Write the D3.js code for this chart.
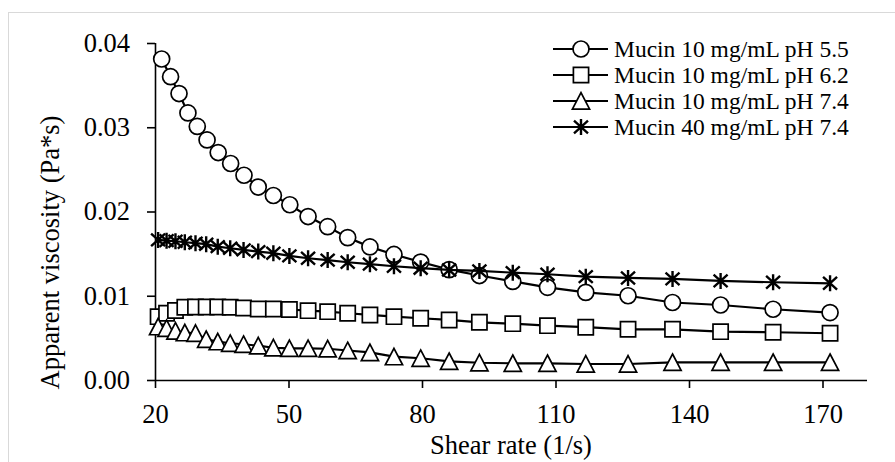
<!DOCTYPE html>
<html>
<head>
<meta charset="utf-8">
<script src="https://cdn.jsdelivr.net/npm/d3@7"></script>
<style>
  body { margin: 0; background: #fff; }
  svg { display: block; font-family: "Liberation Serif", "Times New Roman", serif; }
</style>
</head>
<body>
<svg id="chart" width="895" height="462"></svg>
<script>
// ---- data ----
// shear rates for the pH 5.5 run and for the other three runs
const shearA = [21.5, 23.5, 25.4, 27.4, 29.5, 31.7, 34.2, 37.0, 40.0, 43.2, 46.6, 50.3, 54.4, 58.8,
  63.3, 68.3, 73.7, 79.7, 86.1, 92.9, 100.4, 108.2, 116.8, 126.3, 136.3, 147.1, 158.9, 171.7];
const shearB = [20.7, 22.6, 24.6, 26.7, 29.1, 31.5, 34.1, 36.9, 39.9, 43.2, 46.6, 50.2, 54.4, 58.8,
  63.3, 68.3, 73.7, 79.7, 86.1, 92.9, 100.4, 108.2, 116.8, 126.3, 136.3, 147.1, 158.9, 171.7];

const ph55 = [0.0381, 0.0360, 0.0340, 0.0317, 0.0301, 0.0285, 0.0270, 0.0257, 0.0243, 0.0229,
  0.0219, 0.0208, 0.0194, 0.0182, 0.0169, 0.0158, 0.0149, 0.0140, 0.0131, 0.0124, 0.0117,
  0.0110, 0.0104, 0.0100, 0.0092, 0.0089, 0.0084, 0.0080];
const ph62 = [0.00752, 0.00792, 0.00825, 0.00863, 0.00867, 0.00867, 0.00867, 0.00863, 0.00855,
  0.00843, 0.00843, 0.00837, 0.00823, 0.00811, 0.00792, 0.00772, 0.00752, 0.00733, 0.00713,
  0.00685, 0.00669, 0.00645, 0.00627, 0.00602, 0.00602, 0.00574, 0.00567, 0.00555];
const ph74 = [0.00633, 0.00614, 0.00582, 0.00562, 0.00555, 0.00483, 0.00455, 0.00436, 0.00424,
  0.00407, 0.00383, 0.00376, 0.00376, 0.00371, 0.00350, 0.00327, 0.00277, 0.00258, 0.00222,
  0.00205, 0.00198, 0.00198, 0.00190, 0.00190, 0.00210, 0.00210, 0.00210, 0.00210];
const mucin40 = [0.01663, 0.01654, 0.01647, 0.01635, 0.01624, 0.01612, 0.01583, 0.01564, 0.01544,
  0.01524, 0.01505, 0.01473, 0.01445, 0.01423, 0.01398, 0.01375, 0.01350, 0.01327, 0.01306,
  0.01295, 0.01274, 0.01255, 0.01227, 0.01211, 0.01200, 0.01176, 0.01160, 0.01148];

const seriesNames = ["Mucin 10 mg/mL pH 5.5", "Mucin 10 mg/mL pH 6.2",
  "Mucin 10 mg/mL pH 7.4", "Mucin 40 mg/mL pH 7.4"];
const xTicks = [20, 50, 80, 110, 140, 170];
const yTicks = [0, 0.01, 0.02, 0.03, 0.04];

// ---- layout ----
const plotL = 155, plotR = 867, plotT = 43, plotB = 380;
const svg = d3.select("#chart");

// figure frame (only top/left edges fall inside the picture)
svg.append("rect")
  .attr("x", 8.5).attr("y", 12.5)
  .attr("width", 900).attr("height", 470)
  .attr("fill", "none").attr("stroke", "#d9d9d9").attr("stroke-width", 1);

const x = d3.scaleLinear().domain([20, 180]).range([plotL, plotR]);
const y = d3.scaleLinear().domain([0, 0.04]).range([plotB, plotT]);

// marker shapes
const shapes = {
  circle: "M8,0A8,8 0 1,1 -8,0A8,8 0 1,1 8,0Z",
  square: "M-7.6,-7.6H7.6V7.6H-7.6Z",
  triangle: "M0,-8.3L8.6,8.1H-8.6Z",
  star: "M0,-8V8M-7,-6.3L7,6.3M-7,6.3L7,-6.3"
};

const series = [
  { name: seriesNames[0], xs: shearA, ys: ph55, shape: "circle" },
  { name: seriesNames[1], xs: shearB, ys: ph62, shape: "square" },
  { name: seriesNames[2], xs: shearB, ys: ph74, shape: "triangle" },
  { name: seriesNames[3], xs: shearB, ys: mucin40, shape: "star" }
];

// axes
const xAxis = d3.axisBottom(x).tickValues(xTicks).tickSize(8).tickPadding(16)
  .tickFormat(d3.format("d"));
const gx = svg.append("g").attr("transform", `translate(0,${plotB})`).call(xAxis);
gx.select(".domain").attr("d", `M${plotL},0.5H${plotR}`);

const yAxis = d3.axisLeft(y).tickValues(yTicks).tickSize(8).tickPadding(17)
  .tickFormat(d3.format(".2f"));
const gy = svg.append("g").attr("transform", `translate(${plotL},0)`).call(yAxis);
gy.select(".domain").attr("d", `M0.5,${plotT}V${plotB}`);

svg.selectAll(".tick line, .domain").attr("stroke", "#000").attr("stroke-width", 1.6);
svg.selectAll(".tick text").attr("font-size", 26.5).attr("fill", "#000")
  .attr("font-family", "Liberation Serif, Times New Roman, serif");

// axis titles
svg.append("text")
  .attr("x", (plotL + plotR) / 2).attr("y", 454)
  .attr("text-anchor", "middle").attr("font-size", 26.5)
  .text("Shear rate (1/s)");
svg.append("text")
  .attr("transform", `translate(59,${(plotT + plotB) / 2 + 41}) rotate(-90)`)
  .attr("text-anchor", "middle").attr("font-size", 26.5)
  .text("Apparent viscosity (Pa*s)");

// series
const line = d3.line().x(d => x(d[0])).y(d => y(d[1]));
series.forEach(s => {
  const pts = s.xs.map((v, i) => [v, s.ys[i]]);
  const g = svg.append("g");
  g.append("path").attr("d", line(pts))
    .attr("fill", "none").attr("stroke", "#000").attr("stroke-width", 2.2);
  g.selectAll("path.m").data(pts).join("path")
    .attr("class", "m")
    .attr("transform", d => `translate(${x(d[0])},${y(d[1])})`)
    .attr("d", shapes[s.shape])
    .attr("fill", s.shape === "star" ? "none" : "#fff")
    .attr("stroke", "#000")
    .attr("stroke-width", s.shape === "star" ? 2.4 : 1.7);
});

// legend
const leg = svg.append("g");
series.forEach((s, i) => {
  const cy = 49 + i * 26;
  leg.append("line").attr("x1", 553).attr("x2", 608).attr("y1", cy).attr("y2", cy)
    .attr("stroke", "#000").attr("stroke-width", 2.2);
  leg.append("path").attr("transform", `translate(581,${cy})`)
    .attr("d", shapes[s.shape])
    .attr("fill", s.shape === "star" ? "none" : "#fff")
    .attr("stroke", "#000")
    .attr("stroke-width", s.shape === "star" ? 2.4 : 1.7);
  leg.append("text").attr("x", 614).attr("y", cy + 8)
    .attr("font-size", 23.5).text(s.name);
});
</script>
</body>
</html>
